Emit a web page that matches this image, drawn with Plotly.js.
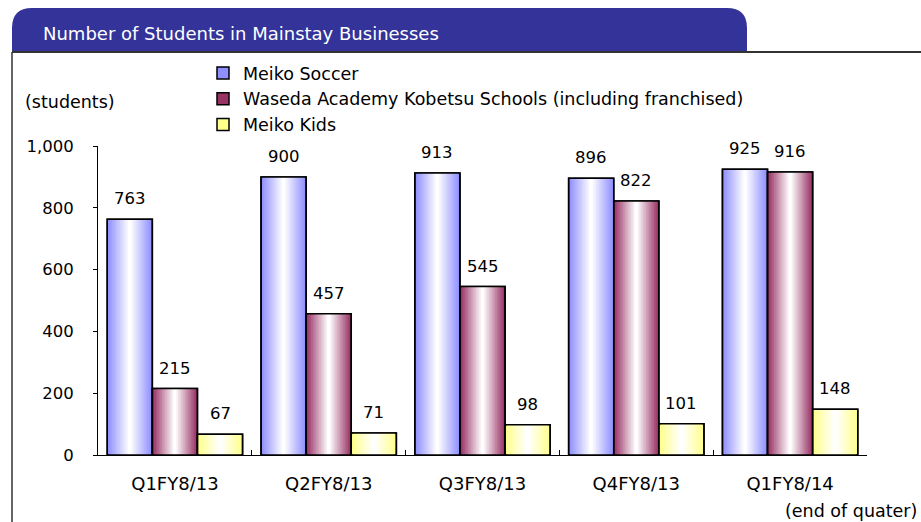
<!DOCTYPE html>
<html>
<head>
<meta charset="utf-8">
<script src="https://cdn.plot.ly/plotly-3.0.1.min.js"></script>
<style>html,body{margin:0;padding:0;background:#fff;}#chart{width:921px;height:522px;}</style>
</head>
<body>
<div id="chart"></div>
<script>
// ---- data ----
const categories = ["Q1FY8/13", "Q2FY8/13", "Q3FY8/13", "Q4FY8/13", "Q1FY8/14"];
const seriesNames = ["Meiko Soccer", "Waseda Academy Kobetsu Schools (including franchised)", "Meiko Kids"];
const meikoSoccer = [763, 900, 913, 896, 925];
const wasedaAcademy = [215, 457, 545, 822, 916];
const meikoKids = [67, 71, 98, 101, 148];
const yTickVals = [0, 200, 400, 600, 800, 1000];
const yTickText = ["0", "200", "400", "600", "800", "1,000"];

// ---- styling ----
const seriesValues = [meikoSoccer, wasedaAcademy, meikoKids];
const edgeColors = [[143, 143, 255], [153, 51, 102], [255, 255, 140]];
const FONT = "DejaVu Sans, sans-serif";

// plot geometry (pixels)
const L = 98, T = 146, PW = 769, PH = 309;
const W = 921, H = 522;
const fx = x => (x - L) / PW;
const fy = y => (T + PH - y) / PH;

const groupW = 0.88, barW = groupW / 3, N = 14;
const traces = [];
const annotations = [];
function mix(c, t) { // t=0 edge, t=1 white
  return "rgb(" + c.map(v => Math.round(v + (255 - v) * t)).join(",") + ")";
}
seriesValues.forEach((vals, s) => {
  const center = -groupW / 2 + barW * (s + 0.5);
  for (let k = 0; k < N; k++) {
    const w = barW * (1 - k / N);
    traces.push({
      type: "bar", x: categories, y: vals,
      width: w, offset: center - w / 2,
      marker: { color: mix(edgeColors[s], k / (N - 1)), line: { width: k === 0 ? 1.5 : 0, color: "#000" } },
      name: seriesNames[s], showlegend: k === 0, legendgroup: "s" + s,
      hoverinfo: "skip"
    });
  }
  traces.push({
    type: "bar", x: categories, y: vals,
    width: barW, offset: center - barW / 2,
    marker: { color: "rgba(0,0,0,0)", line: { width: 1.5, color: "#000" } },
    showlegend: false, legendgroup: "s" + s, hoverinfo: "skip"
  });
  vals.forEach((v, i) => {
    annotations.push({
      xref: "x", yref: "y", x: i + center, y: v, xanchor: "center", yanchor: "bottom",
      yshift: 9, showarrow: false, text: String(v),
      font: { family: FONT, size: 16.5, color: "#000" }
    });
  });
});

// banner path
const bx0 = 12, bx1 = 747, byT = 8, byB = 52, r = 20;
const P = (x, y) => fx(x) + "," + fy(y);
const bannerPath = "M" + P(bx0, byB) + " L" + P(bx0, byT + r) + " Q" + P(bx0, byT) + " " + P(bx0 + r, byT) +
  " L" + P(bx1 - r, byT) + " Q" + P(bx1, byT) + " " + P(bx1, byT + r) + " L" + P(bx1, byB) + " Z";

annotations.push(
  { xref: "paper", yref: "paper", x: fx(41), y: fy(33), xanchor: "left", yanchor: "middle", showarrow: false,
    text: "Number of Students in Mainstay Businesses", font: { family: FONT, size: 18, color: "#fff" } },
  { xref: "paper", yref: "paper", x: fx(23), y: fy(102), xanchor: "left", yanchor: "middle", showarrow: false,
    text: "(students)", font: { family: FONT, size: 17.5, color: "#000" } },
  { xref: "paper", yref: "paper", x: fx(918), y: fy(511), xanchor: "right", yanchor: "middle", showarrow: false,
    borderpad: 0, text: "(end of quater)", font: { family: FONT, size: 17.5, color: "#000" } }
);

const layout = {
  width: W, height: H,
  margin: { l: L, r: W - L - PW, t: T, b: H - T - PH, pad: 0 },
  paper_bgcolor: "#fff", plot_bgcolor: "#fff",
  barmode: "overlay",
  font: { family: FONT, size: 16, color: "#000" },
  showlegend: true,
  legend: {
    x: fx(203), y: fy(55), xanchor: "left", yanchor: "top",
    font: { family: FONT, size: 17.5, color: "#000" },
    bgcolor: "rgba(0,0,0,0)", tracegroupgap: 0, itemwidth: 30
  },
  xaxis: {
    type: "category", showgrid: false, zeroline: false,
    showline: true, linecolor: "#000", linewidth: 1,
    ticks: "inside", ticklen: 5, tickcolor: "#000", tickson: "boundaries",
    tickfont: { family: FONT, size: 18, color: "#000" },
    ticklabelstandoff: 12, fixedrange: true
  },
  yaxis: {
    range: [0, 1000], showgrid: false, zeroline: false,
    showline: true, linecolor: "#000", linewidth: 1,
    ticks: "outside", ticklen: 4, tickcolor: "#000",
    tickvals: yTickVals, ticktext: yTickText,
    tickfont: { family: FONT, size: 16.5, color: "#000" },
    ticklabelstandoff: 16, fixedrange: true
  },
  shapes: [
    { type: "path", xref: "paper", yref: "paper", path: bannerPath, fillcolor: "#333399", line: { width: 0 } },
    { type: "line", xref: "paper", yref: "paper", x0: fx(12), x1: fx(921), y0: fy(52), y1: fy(52), line: { color: "#333", width: 2 } },
    { type: "line", xref: "paper", yref: "paper", x0: fx(12), x1: fx(12), y0: fy(52), y1: fy(522), line: { color: "#333", width: 1.5 } }
  ],
  annotations: annotations
};

Plotly.newPlot("chart", traces, layout, { displayModeBar: false, staticPlot: true });
</script>
</body>
</html>
